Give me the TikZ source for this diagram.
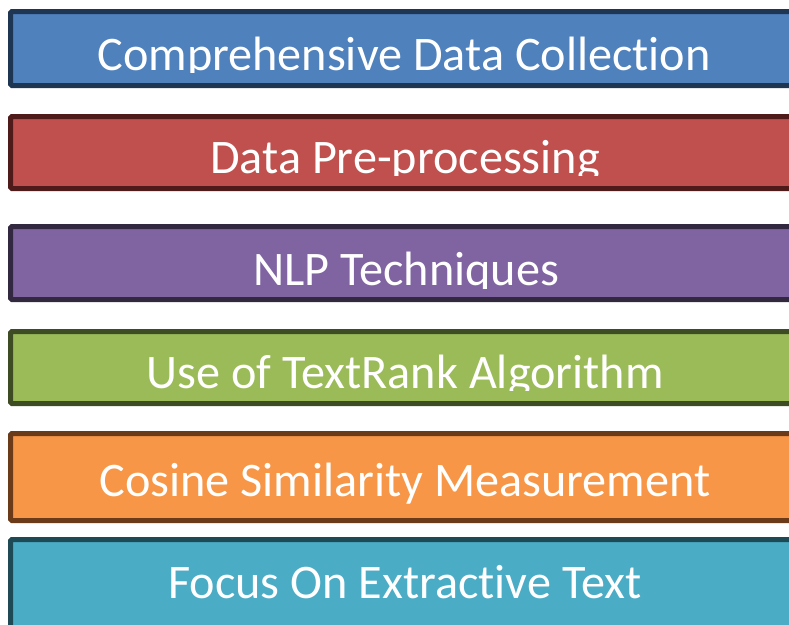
\documentclass[tikz,border=0pt]{standalone}
\usepackage{fontspec}
\setmainfont{Carlito}[Ligatures=NoCommon]
\definecolor{f1}{HTML}{4F81BD}\definecolor{d1}{HTML}{1F3652}
\definecolor{f2}{HTML}{C0504D}\definecolor{d2}{HTML}{4F1B1A}
\definecolor{f3}{HTML}{8064A2}\definecolor{d3}{HTML}{32283F}
\definecolor{f4}{HTML}{9BBB59}\definecolor{d4}{HTML}{3E4C23}
\definecolor{f5}{HTML}{F79646}\definecolor{d5}{HTML}{6B3B19}
\definecolor{f6}{HTML}{4BACC6}\definecolor{d6}{HTML}{1E4A55}
\begin{document}
\begin{tikzpicture}[x=1pt,y=-1pt,
  stagebox/.style={rectangle, line width=5pt, rounded corners=1.5pt, minimum width=789pt, inner sep=0pt},
  stagetext/.style={anchor=base, inner sep=0pt, text=white, font=\fontsize{48.2}{52}\selectfont}]
\useasboundingbox (0,0) rectangle (789,624);
\clip (0,0) rectangle (789,624);
\node[stagebox, draw=d1, fill=f1, minimum height=74pt] (b1) at (405,48.5) {};
\node[stagebox, draw=d2, fill=f2, minimum height=72pt] (b2) at (405,152.5) {};
\node[stagebox, draw=d3, fill=f3, minimum height=73pt] (b3) at (405,263) {};
\node[stagebox, draw=d4, fill=f4, minimum height=72pt] (b4) at (405,367.5) {};
\node[stagebox, draw=d5, fill=f5, minimum height=87pt] (b5) at (405,477) {};
\node[stagebox, draw=d6, fill=f6, minimum height=158pt] (b6) at (405,618.5) {};
\begin{scope}\clip (0,0) rectangle (789,72.5);
\node[stagetext] (t1) at (404,70) {Comprehensive Data Collection};\end{scope}
\begin{scope}\clip (0,100) rectangle (789,175.5);
\node[stagetext] (t2) at (405,173) {Data Pre-processing};\end{scope}
\begin{scope}\clip (0,210) rectangle (789,288);
\node[stagetext] (t3) at (406,285) {NLP Techniques};\end{scope}
\begin{scope}\clip (0,310) rectangle (789,390.5);
\node[stagetext] (t4) at (405,388) {Use of TextRank Algorithm};\end{scope}
\begin{scope}\clip (0,420) rectangle (789,506);
\node[stagetext] (t5) at (405,496) {Cosine Similarity Measurement};\end{scope}
\node[stagetext] (t6) at (405,598) {Focus On Extractive Text};
\end{tikzpicture}
\end{document}
